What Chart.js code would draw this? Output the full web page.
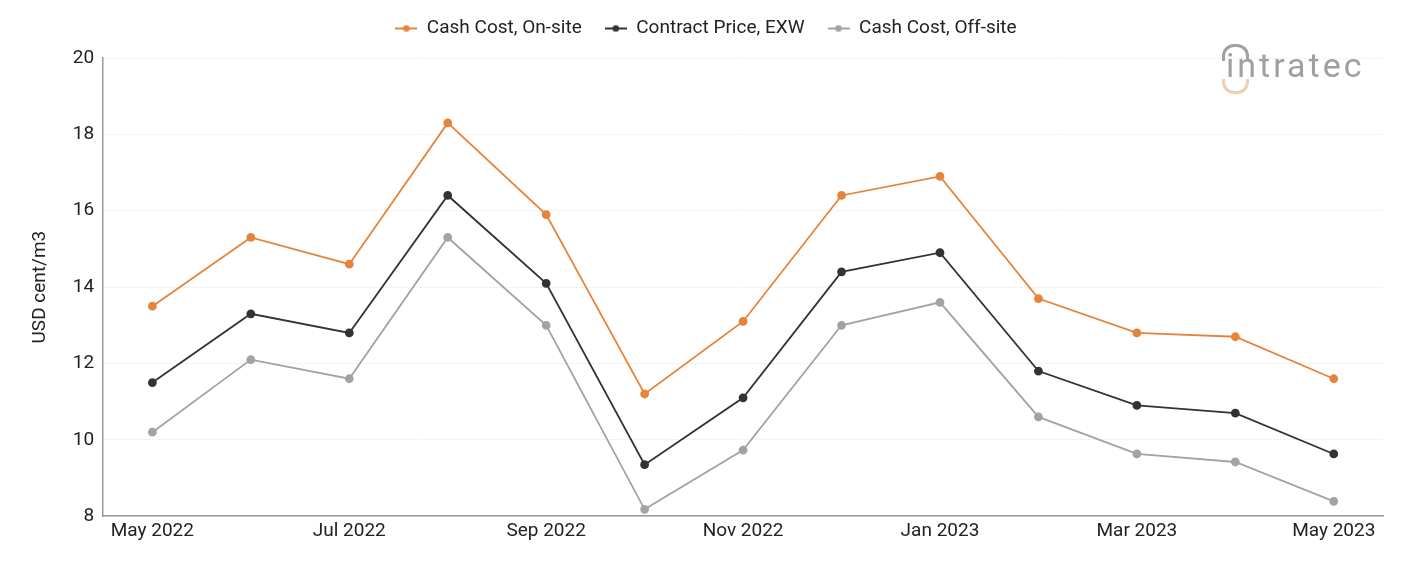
<!DOCTYPE html>
<html>
<head>
<meta charset="utf-8">
<script src="https://cdn.jsdelivr.net/npm/chart.js@4"></script>
<style>
    html, body { margin: 0; padding: 0; background: #fff; }
    #wrap { position: relative; width: 1401px; height: 561px; }
    #logo { position: absolute; left: 1221px; top: 43px; width: 150px; height: 54px; }
    #logo .txt { position: absolute; left: 5px; top: 2px; font-family: Roboto, sans-serif; font-size: 34px; color: #a0a0a0; letter-spacing: 3px; }
    #logo .arcTop { position: absolute; left: 1px; top: 1px; width: 21px; height: 14px; border: 3px solid #a0a0a0; border-bottom: none; border-radius: 12px 12px 0 0; }
    #logo .arcBot { position: absolute; left: 1px; top: 36px; width: 21px; height: 12px; border: 3px solid #ecd0b3; border-top: none; border-radius: 0 0 12px 12px; }
</style>
</head>
<body>
<div id="wrap">
    <canvas id="priceChart" width="1401" height="561"></canvas>
    <div id="logo"><div class="arcTop"></div><div class="arcBot"></div><span class="txt">intratec</span></div>
</div>
<script>
const months = ['May 2022', 'Jun 2022', 'Jul 2022', 'Aug 2022', 'Sep 2022', 'Oct 2022', 'Nov 2022',
    'Dec 2022', 'Jan 2023', 'Feb 2023', 'Mar 2023', 'Apr 2023', 'May 2023'];
const cashCostOnSite = [13.5, 15.3, 14.6, 18.3, 15.9, 11.2, 13.1, 16.4, 16.9, 13.7, 12.8, 12.7, 11.6];
const contractPriceExw = [11.5, 13.3, 12.8, 16.4, 14.1, 9.35, 11.1, 14.4, 14.9, 11.8, 10.9, 10.7, 9.63];
const cashCostOffSite = [10.2, 12.1, 11.6, 15.3, 13.0, 8.18, 9.73, 13.0, 13.6, 10.6, 9.63, 9.42, 8.39];
const yTicks = [8, 10, 12, 14, 16, 18, 20];

// little line+dot icon for the legend
function legendIcon(color) {
    const c = document.createElement('canvas');
    c.width = 22; c.height = 10;
    const g = c.getContext('2d');
    g.strokeStyle = color; g.lineWidth = 2;
    g.beginPath(); g.moveTo(0, 5); g.lineTo(22, 5); g.stroke();
    g.fillStyle = color;
    g.beginPath(); g.arc(11, 5, 3.3, 0, Math.PI * 2); g.fill();
    return c;
}

function series(label, data, color) {
    return {
        label: label,
        data: data,
        borderColor: color,
        backgroundColor: color,
        borderWidth: 1.8,
        pointRadius: 3.5,
        pointHoverRadius: 4,
        pointStyle: 'circle',
        legendIcon: legendIcon(color),
        tension: 0
    };
}

// extra space under the legend
const legendGap = {
    id: 'legendGap',
    beforeInit: function(chart) {
        const fit = chart.legend.fit;
        chart.legend.fit = function() {
            fit.bind(chart.legend)();
            this.height += 10;
        };
    }
};

document.addEventListener('DOMContentLoaded', function() {
    const ctx = document.getElementById('priceChart').getContext('2d');

    new Chart(ctx, {
        type: 'line',
        data: {
            labels: months,
            datasets: [
                series('Cash Cost, On-site', cashCostOnSite, '#e5843b'),
                series('Contract Price, EXW', contractPriceExw, '#333333'),
                series('Cash Cost, Off-site', cashCostOffSite, '#a3a3a3')
            ]
        },
        plugins: [legendGap],
        options: {
            responsive: false,
            animation: false,
            layout: { padding: { left: 29, right: 18, top: -4, bottom: 14 } },
            plugins: {
                legend: {
                    position: 'top',
                    labels: {
                        font: { family: 'Roboto', size: 19 },
                        color: '#222',
                        usePointStyle: true,
                        pointStyleWidth: 22,
                        padding: 23,
                        generateLabels: function(chart) {
                            return chart.data.datasets.map((d, i) => ({
                                text: d.label,
                                fillStyle: d.borderColor,
                                strokeStyle: d.borderColor,
                                pointStyle: d.legendIcon,
                                fontColor: '#222',
                                hidden: false,
                                datasetIndex: i
                            }));
                        }
                    }
                },
                tooltip: { enabled: false }
            },
            scales: {
                x: {
                    offset: true,
                    grid: { display: false, drawTicks: false },
                    border: { color: '#9a9a9a', width: 1.5 },
                    ticks: {
                        font: { family: 'Roboto', size: 19 },
                        color: '#222',
                        maxRotation: 0,
                        autoSkip: false,
                        padding: 4,
                        callback: function(v, i) { return i % 2 === 0 ? months[i] : ''; }
                    }
                },
                y: {
                    min: yTicks[0],
                    max: yTicks[yTicks.length - 1],
                    afterBuildTicks: function(axis) { axis.ticks = yTicks.map(v => ({ value: v })); },
                    grid: { color: '#f3f3f3', drawTicks: false },
                    border: { color: '#9a9a9a', width: 1.5 },
                    ticks: {
                        font: { family: 'Roboto', size: 19 },
                        color: '#222',
                        padding: 9
                    },
                    title: {
                        display: true,
                        text: 'USD cent/m3',
                        font: { family: 'Roboto', size: 19 },
                        color: '#222',
                        padding: { top: 0, bottom: 12 }
                    }
                }
            }
        }
    });
});
</script>
</body>
</html>
